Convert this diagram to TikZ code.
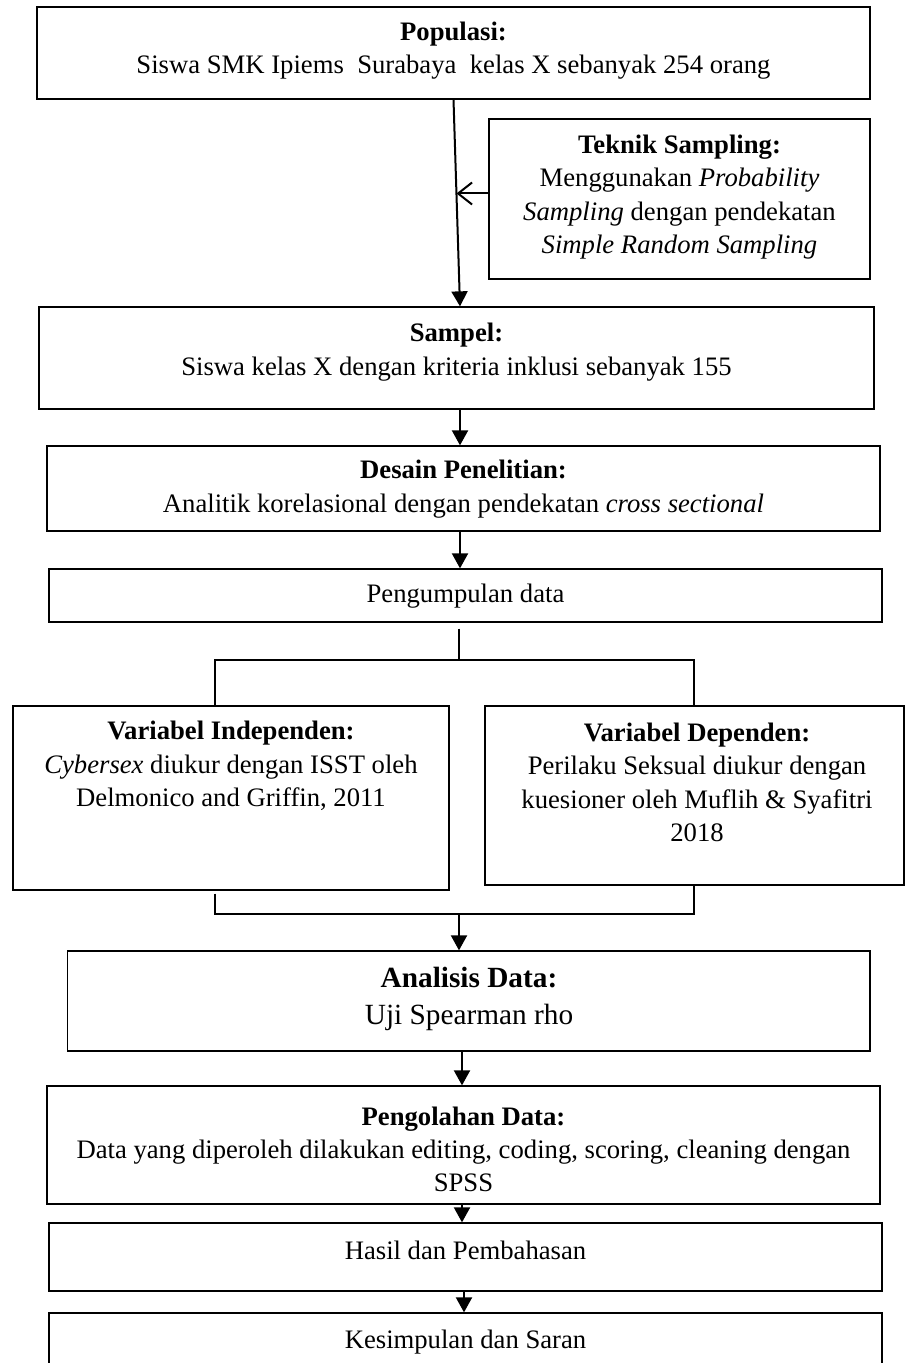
\documentclass[tikz,border=0pt]{standalone}
\usepackage{fontspec}
\setmainfont{Liberation Serif}
\usetikzlibrary{calc,arrows.meta}

\begin{document}
\begin{tikzpicture}[x=1pt,y=-1pt,
  kotak/.style={draw,line width=1.3pt,inner sep=0pt},
  teks/.style={align=center,inner sep=0pt,font=\fontsize{26.67}{33.3}\selectfont},
  panah/.style={line width=2pt,-{Triangle[width=16pt,length=15pt]}},
  garis/.style={line width=1.6pt}]
  \useasboundingbox (0,0) rectangle (905,1363);

  % populasi dan teknik sampling
  \node[kotak,minimum width=833pt,minimum height=92pt] (populasi) at (453.5,53) {};
  \node[teks] (tpopulasi) at (453.5,50.5) {\textbf{Populasi:}\\ Siswa SMK Ipiems\ \ Surabaya\ \ kelas X sebanyak 254 orang};
  \node[kotak,minimum width=381pt,minimum height=160pt] (teknik) at (679.5,199) {};
  \node[teks] (tteknik) at (679.5,197) {\textbf{Teknik Sampling:}\\ Menggunakan \textit{Probability}\\ \textit{Sampling} dengan pendekatan\\ \textit{Simple Random Sampling}};

  % sampel
  \node[kotak,minimum width=835pt,minimum height=102pt] (sampel) at (456.5,358) {};
  \node[teks] (tsampel) at (456.5,352) {\textbf{Sampel:}\\ Siswa kelas X dengan kriteria inklusi sebanyak 155};

  % desain dan pengumpulan data
  \node[kotak,minimum width=833pt,minimum height=85pt] (desain) at (463.5,488.5) {};
  \node[teks] (tdesain) at (463.5,489) {\textbf{Desain Penelitian:}\\ Analitik korelasional dengan pendekatan \textit{cross sectional}};
  \node[kotak,minimum width=833pt,minimum height=53pt] (kumpul) at (465.5,595.5) {};
  \node[teks] (tkumpul) at (465.5,596) {Pengumpulan data};

  % variabel
  \node[kotak,minimum width=436pt,minimum height=184pt] (independen) at (231,798) {};
  \node[teks] (tindependen) at (231,766) {\textbf{Variabel Independen:}\\ \textit{Cybersex} diukur dengan ISST oleh\\ Delmonico and Griffin, 2011};
  \node[kotak,minimum width=419pt,minimum height=179pt] (dependen) at (694.5,795.5) {};
  \node[teks] (tdependen) at (697,782.5) {\textbf{Variabel Dependen:}\\ Perilaku Seksual diukur dengan\\ kuesioner oleh Muflih \& Syafitri\\ 2018};

  % analisis dan pengolahan
  \node[kotak,minimum width=802.5pt,minimum height=100pt] (analisis) at (468.75,1001) {};
  \node[teks,font=\fontsize{29.3}{37}\selectfont] (tanalisis) at (469,998.5) {\textbf{Analisis Data:}\\ Uji Spearman rho};
  \node[kotak,minimum width=833pt,minimum height=118pt] (olah) at (463.5,1145) {};
  \node[teks] (tolah) at (463.5,1149.5) {\textbf{Pengolahan Data:}\\ Data yang diperoleh dilakukan editing, coding, scoring, cleaning dengan\\ SPSS};

  % hasil dan kesimpulan
  \node[kotak,minimum width=833pt,minimum height=68pt] (hasil) at (465.5,1257) {};
  \node[teks] (thasil) at (465.5,1250) {Hasil dan Pembahasan};
  \node[kotak,minimum width=833pt,minimum height=67pt] (kesimpulan) at (465.5,1346.5) {};
  \node[teks] (tkesimpulan) at (465.5,1342) {Kesimpulan dan Saran};

  % alur
  \coordinate (tengah) at (460,0);
  \coordinate (ujung) at ($(sampel.north)+(3.5,0)$);
  \coordinate (titik) at ($(populasi.south)!0.454!(ujung)$);
  \draw[panah] (populasi.south) -- (ujung);
  \draw[line width=2pt,-{Straight Barb[length=14pt,width=22pt]}] (titik -| teknik.west) -- (titik);
  \draw[panah] (tengah |- sampel.south) -- (tengah |- desain.north);
  \draw[panah] (tengah |- desain.south) -- (tengah |- kumpul.north);

  % cabang ke variabel
  \coordinate (cabang) at (459,660);
  \draw[garis] ($(kumpul.south -| cabang)+(0,6)$) -- (cabang);
  \draw[garis] ($(independen.north)+(-16,0)$) |- (cabang) -| ($(dependen.north)+(-0.5,0)$);
  \coordinate (gabung) at (459,914);
  \draw[garis] ($(independen.south)+(-16,3)$) |- (gabung) -| ($(dependen.south)+(-0.5,0)$);
  \draw[panah] (gabung) -- (gabung |- analisis.north);

  \coordinate (bawah) at (462,0);
  \draw[panah] (bawah |- analisis.south) -- (bawah |- olah.north);
  \draw[panah] (bawah |- olah.south) -- (bawah |- hasil.north);
  \draw[panah] ($(hasil.south -| bawah)+(2,0)$) -- ($(kesimpulan.north -| bawah)+(2,0)$);
\end{tikzpicture}
\end{document}
